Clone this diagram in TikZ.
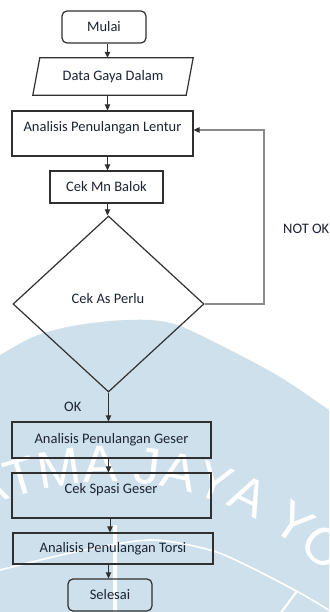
\documentclass[tikz,border=0pt]{standalone}
\usepackage{fontspec}
\setmainfont{Carlito}
\newfontfamily\wmfont{Liberation Sans}
\usetikzlibrary{arrows.meta,shapes.geometric,decorations.text}
\definecolor{ink}{HTML}{1C2434}
\definecolor{edge}{HTML}{303030}
\definecolor{loopgray}{HTML}{8C8C8C}
\definecolor{wmblue}{RGB}{205,224,236}
\begin{document}
\begin{tikzpicture}[x=1pt,y=-1pt,
  font=\fontsize{14.5}{17}\selectfont,
  every node/.style={text=ink},
  box/.style={draw=edge, line width=1.2pt, inner sep=0pt},
  rbox/.style={box, rounded corners=5pt},
  lbl/.style={inner sep=0pt},
  flow/.style={draw=edge, line width=0.9pt, -{Triangle[length=6pt,width=5.5pt]}},
  back/.style={draw=loopgray, line width=1.1pt, -{Triangle[length=6pt,width=5.5pt,color=edge]}}]

% page
\fill[white] (0,0) rectangle (329,612);
\useasboundingbox (0,0) rectangle (329,612);

% watermark in the background
\begin{scope}
  \clip (0,0) rectangle (329,612);
  \fill[wmblue] plot[smooth] coordinates {(-4,357) (0,355) (33,337) (67,327) (110,321) (150,320) (180,326) (230,350) (280,377) (329,410) (334,414)}
    -- (334,616) -- (-4,616) -- cycle;
  \path[decorate, decoration={text along path, text color=white,
      text={|\wmfont\fontsize{52}{52}\selectfont|ATMA JAYA YO}}]
    (110,782) ++(-116:300) arc[start angle=-116, end angle=-40, radius=300];
  \draw[white, line width=1.6pt] plot[smooth] coordinates {(-2,571) (0,570) (75,552) (150,540) (210,550) (250,567) (300,593) (332,612)};
  \draw[white, line width=3.5pt] (115,525) -- (115,614);
  \draw[white, line width=2pt] (297,591) -- (280,614);
\end{scope}

% flowchart steps
\node[rbox, minimum width=84pt, minimum height=32pt] (mulai) at (104,27) {Mulai};
\node[lbl, minimum width=153pt, minimum height=37pt] (data) at (113,76.5) {Data Gaya Dalam};
\draw[box] ([xshift=3.5pt]data.north west) -- ([xshift=3.5pt]data.north east)
  -- ([xshift=-3.5pt]data.south east) -- ([xshift=-3.5pt]data.south west) -- cycle;
\node[box, minimum width=181pt, minimum height=45pt] (lentur) at (102.5,133.5) {};
\node[lbl] (lenturtxt) at (102.5,128) {Analisis Penulangan Lentur};
\node[box, minimum width=113pt, minimum height=32pt] (mn) at (106.5,187) {Cek Mn Balok};
\node[box, diamond, minimum width=191pt, minimum height=176pt] (as) at (108.5,304) {};
\node[lbl] (astxt) at (108,299) {Cek As Perlu};
\node[box, minimum width=199pt, minimum height=36pt] (geser) at (111.5,440) {Analisis Penulangan Geser};
\node[box, minimum width=199pt, minimum height=45pt] (spasi) at (111.5,495.5) {};
\node[lbl] (spasitxt) at (111,490) {Cek Spasi Geser};
\node[box, minimum width=200pt, minimum height=31pt] (torsi) at (113,548.5) {Analisis Penulangan Torsi};
\node[rbox, minimum width=84pt, minimum height=32pt] (selesai) at (110,595) {Selesai};

% branch labels
\node[lbl, anchor=west] (notok) at (283,229) {NOT OK};
\node[lbl, anchor=west] (ok) at (64,407) {OK};

% connectors
\coordinate (colA) at (107.5,0);
\coordinate (colB) at (108.5,0);
\coordinate (colC) at (110,0);
\draw[flow] (mulai.south -| colA) -- (data.north -| colA);
\draw[flow] (data.south -| colA) -- (lentur.north -| colA);
\draw[flow] (lentur.south -| colA) -- (mn.north -| colA);
\draw[flow] (mn.south -| colA) -- (as.north -| colA);
\draw[flow] (as.south) -- (geser.north -| as.south);
\draw[flow] (geser.south -| colB) -- (spasi.north -| colB);
\draw[flow] (spasi.south -| colC) -- (torsi.north -| colC);
\draw[flow] (torsi.south -| colB) -- (selesai.north -| colB);
\coordinate (turn) at (264,130);
\draw[back] (as.east) -| (turn) -- (turn -| lentur.east);
\end{tikzpicture}
\end{document}
